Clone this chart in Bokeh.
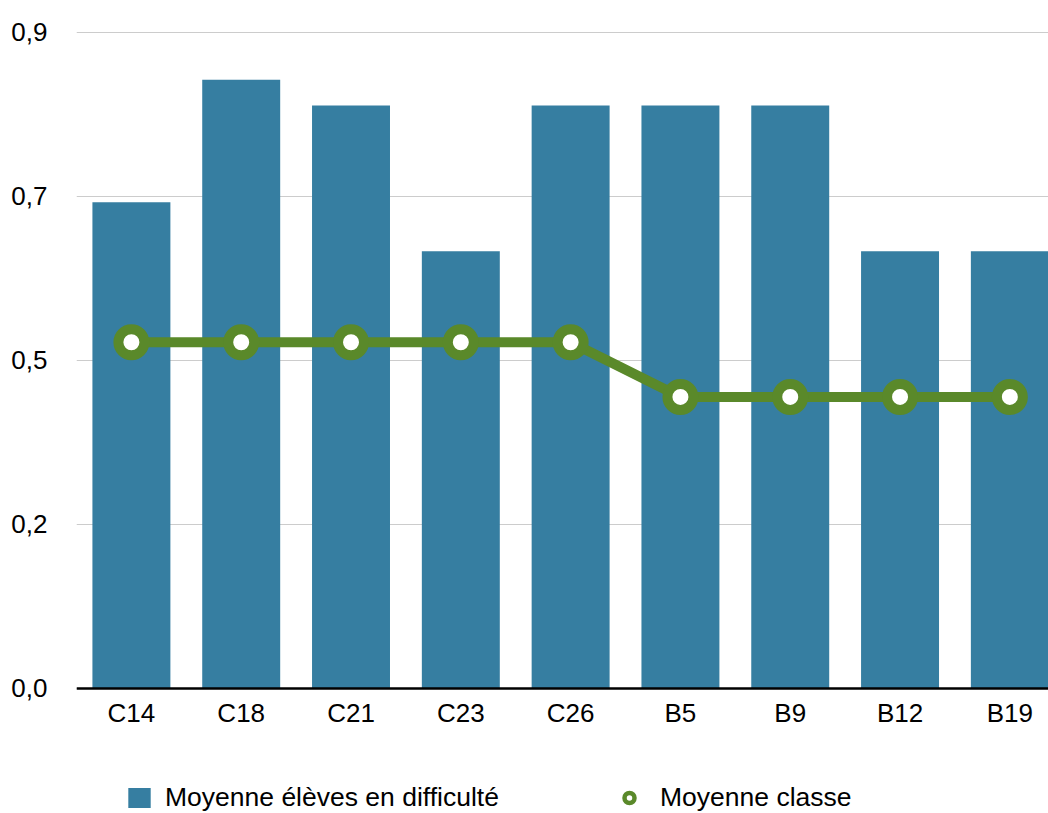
from bokeh.plotting import figure
from bokeh.models import Range1d, FixedTicker, Legend, LegendItem, ColumnDataSource
from bokeh.embed import file_html
from bokeh.resources import INLINE

# ---- data ----
categories = ["C14", "C18", "C21", "C23", "C26", "B5", "B9", "B12", "B19"]
eleves_difficulte = [0.667, 0.835, 0.80, 0.60, 0.80, 0.80, 0.80, 0.60, 0.60]
moyenne_classe = [0.475, 0.475, 0.475, 0.475, 0.475, 0.40, 0.40, 0.40, 0.40]
y_ticks = [0.0, 0.225, 0.45, 0.675, 0.9]
y_tick_labels = ["0,0", "0,2", "0,5", "0,7", "0,9"]
label_bars = "Moyenne élèves en difficulté"
label_line = "Moyenne classe"

BAR = "#367EA1"
GREEN = "#5A892A"
FONT = "Liberation Sans"

positions = list(range(len(categories)))
src = ColumnDataSource(dict(x=positions, cat=categories,
                            bar=eleves_difficulte, avg=moyenne_classe))

p = figure(width=1048, height=813, x_range=Range1d(-0.5, 8.352),
           y_range=Range1d(-0.1715, 0.9041),
           output_backend="svg", toolbar_location=None, title=None,
           min_border_left=76, min_border_right=0, min_border_top=29,
           min_border_bottom=0)
p.outline_line_color = None
p.background_fill_color = "white"

bars = p.vbar(x="x", top="bar", bottom=0, width=0.71, source=src,
              fill_color=BAR, line_color=None)
p.line(x="x", y="avg", source=src, line_width=10, line_color=GREEN,
       line_join="round")
p.scatter(x="x", y="avg", source=src, size=26, line_width=10,
          line_color=GREEN, fill_color="white")

# legend proxy for the marker (not drawn in the plot)
proxy = p.scatter(x=[0], y=[float("nan")], size=10, line_width=4.5,
                  line_color=GREEN, fill_color="white")

# axes
p.xgrid.grid_line_color = None
p.ygrid.ticker = FixedTicker(ticks=y_ticks)
p.ygrid.grid_line_color = "#CCCCCC"
p.ygrid.grid_line_width = 1
p.yaxis.ticker = FixedTicker(ticks=y_ticks)
p.yaxis.major_label_overrides = dict(zip(y_ticks, y_tick_labels))
p.yaxis.axis_line_color = None
p.yaxis.major_tick_line_color = None
p.yaxis.minor_tick_line_color = None
p.yaxis.major_tick_out = 0
p.yaxis.major_label_standoff = 29
p.yaxis.major_label_text_font = FONT
p.yaxis.major_label_text_font_size = "26px"
p.yaxis.major_label_text_color = "black"

p.xaxis.fixed_location = 0
p.xaxis.ticker = FixedTicker(ticks=positions)
p.xaxis.major_label_overrides = dict(zip(positions, categories))
p.xaxis.axis_line_color = "black"
p.xaxis.axis_line_width = 2.5
p.xaxis.major_tick_line_color = None
p.xaxis.minor_tick_line_color = None
p.xaxis.major_tick_out = 0
p.xaxis.major_label_standoff = 10
p.xaxis.major_label_text_font = FONT
p.xaxis.major_label_text_font_size = "26px"
p.xaxis.major_label_text_color = "black"

common = dict(orientation="horizontal", glyph_width=28, glyph_height=25,
              padding=0, margin=0, border_line_color=None,
              background_fill_alpha=0, label_text_font=FONT,
              label_text_font_size="26.5px", label_text_color="black")
legend1 = Legend(items=[LegendItem(label=label_bars, renderers=[bars])],
                 location=(49, 0), label_standoff=12, **common)
legend2 = Legend(items=[LegendItem(label=label_line, renderers=[proxy])],
                 location=(539, 0), label_standoff=17, **common)
p.add_layout(legend1, "center")
p.add_layout(legend2, "center")

open("out.html", "w").write(file_html(p, INLINE))
